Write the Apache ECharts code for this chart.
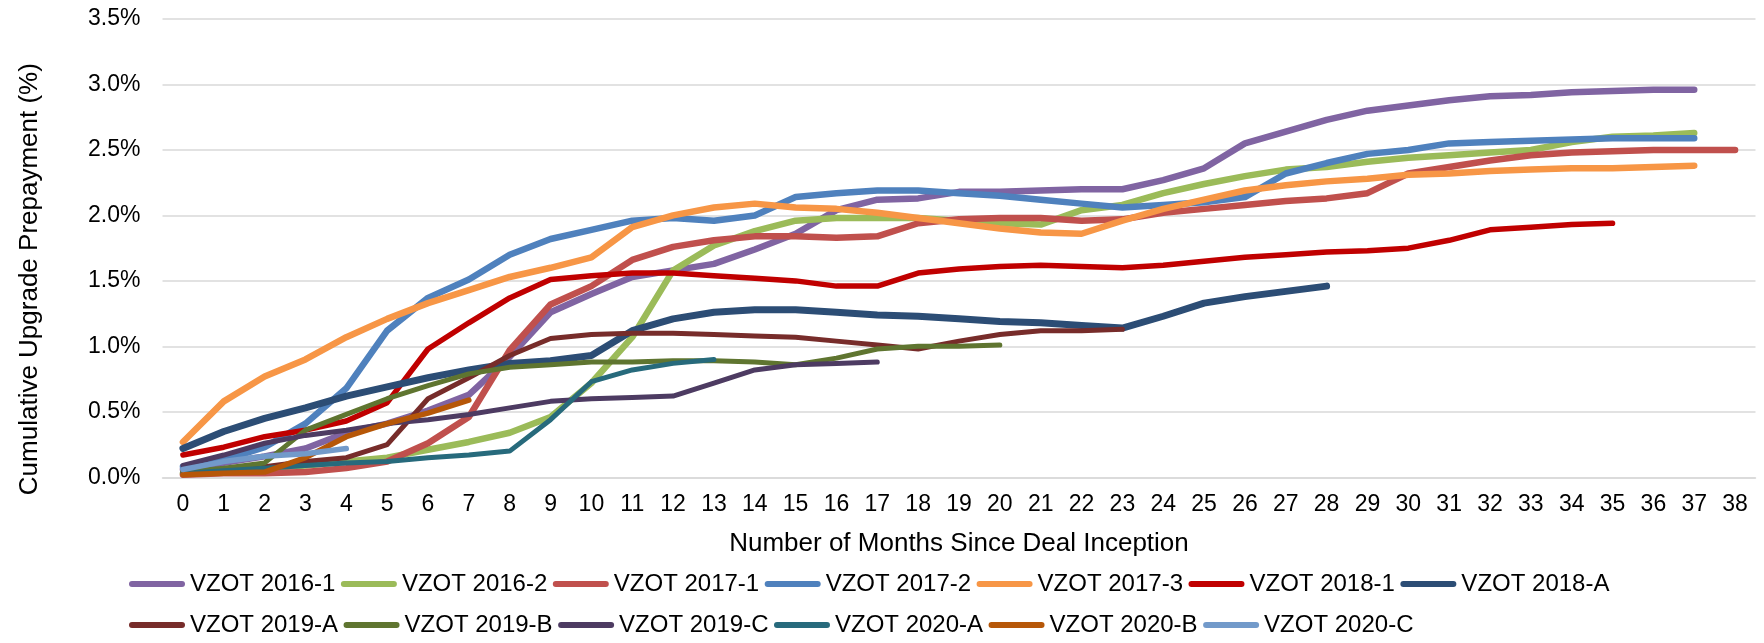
<!DOCTYPE html>
<html>
<head>
<meta charset="utf-8">
<script src="https://cdn.jsdelivr.net/npm/echarts@6/dist/echarts.min.js"></script>
<style>
html,body{margin:0;padding:0;background:#fff;}
#chart{width:1764px;height:643px;}
</style>
</head>
<body>
<div id="chart"></div>
<script>
// Category axis: months since deal inception
var months = ['0','1','2','3','4','5','6','7','8','9','10','11','12','13','14','15','16','17','18','19','20','21','22','23','24','25','26','27','28','29','30','31','32','33','34','35','36','37','38'];

// Series names
var seriesNames = ['VZOT 2016-1','VZOT 2016-2','VZOT 2017-1','VZOT 2017-2','VZOT 2017-3','VZOT 2018-1','VZOT 2018-A','VZOT 2019-A','VZOT 2019-B','VZOT 2019-C','VZOT 2020-A','VZOT 2020-B','VZOT 2020-C'];

// Cumulative upgrade prepayment (%), by month
var vzot2016_1 = [0.06,0.11,0.16,0.22,0.34,0.41,0.51,0.63,0.92,1.26,1.40,1.53,1.58,1.63,1.74,1.86,2.04,2.12,2.13,2.18,2.18,2.19,2.20,2.20,2.27,2.36,2.55,2.64,2.73,2.80,2.84,2.88,2.91,2.92,2.94,2.95,2.96,2.96];
var vzot2016_2 = [0.03,0.05,0.07,0.09,0.12,0.15,0.21,0.27,0.34,0.46,0.72,1.07,1.58,1.77,1.88,1.96,1.98,1.98,1.98,1.96,1.94,1.93,2.04,2.08,2.17,2.24,2.30,2.35,2.37,2.41,2.44,2.46,2.48,2.50,2.56,2.60,2.61,2.63];
var vzot2017_1 = [0.02,0.03,0.03,0.04,0.07,0.12,0.26,0.46,0.97,1.32,1.46,1.66,1.76,1.81,1.84,1.84,1.83,1.84,1.94,1.97,1.98,1.98,1.96,1.97,2.02,2.05,2.08,2.11,2.13,2.17,2.32,2.37,2.42,2.46,2.48,2.49,2.50,2.50,2.50];
var vzot2017_2 = [0.08,0.13,0.23,0.41,0.68,1.12,1.37,1.51,1.70,1.82,1.89,1.96,1.98,1.96,2.00,2.14,2.17,2.19,2.19,2.17,2.15,2.12,2.09,2.06,2.08,2.10,2.14,2.32,2.40,2.47,2.50,2.55,2.56,2.57,2.58,2.59,2.59,2.59];
var vzot2017_3 = [0.27,0.58,0.77,0.90,1.07,1.21,1.33,1.43,1.53,1.60,1.68,1.91,2.00,2.06,2.09,2.06,2.05,2.02,1.98,1.94,1.90,1.87,1.86,1.96,2.05,2.12,2.19,2.23,2.26,2.28,2.31,2.32,2.34,2.35,2.36,2.36,2.37,2.38];
var vzot2018_1 = [0.17,0.23,0.31,0.36,0.43,0.57,0.98,1.18,1.37,1.51,1.54,1.56,1.56,1.54,1.52,1.50,1.46,1.46,1.56,1.59,1.61,1.62,1.61,1.60,1.62,1.65,1.68,1.70,1.72,1.73,1.75,1.81,1.89,1.91,1.93,1.94];
var vzot2018_A = [0.22,0.35,0.45,0.53,0.62,0.69,0.76,0.82,0.87,0.89,0.93,1.12,1.21,1.26,1.28,1.28,1.26,1.24,1.23,1.21,1.19,1.18,1.16,1.14,1.23,1.33,1.38,1.42,1.46];
var vzot2019_A = [0.04,0.06,0.08,0.12,0.15,0.25,0.60,0.76,0.93,1.06,1.09,1.10,1.10,1.09,1.08,1.07,1.04,1.01,0.98,1.04,1.09,1.12,1.12,1.13];
var vzot2019_B = [0.04,0.07,0.11,0.36,0.48,0.60,0.70,0.79,0.84,0.86,0.88,0.88,0.89,0.89,0.88,0.86,0.91,0.98,1.00,1.00,1.01];
var vzot2019_C = [0.09,0.17,0.26,0.32,0.36,0.41,0.44,0.48,0.53,0.58,0.60,0.61,0.62,0.72,0.82,0.86,0.87,0.88];
var vzot2020_A = [0.03,0.05,0.07,0.09,0.11,0.12,0.15,0.17,0.20,0.44,0.73,0.82,0.87,0.90];
var vzot2020_B = [0.02,0.03,0.04,0.15,0.31,0.41,0.49,0.59];
var vzot2020_C = [0.06,0.12,0.16,0.18,0.22];

// Y axis ticks (%)
var yTicks = [0.0,0.5,1.0,1.5,2.0,2.5,3.0,3.5];

var seriesData = [vzot2016_1,vzot2016_2,vzot2017_1,vzot2017_2,vzot2017_3,vzot2018_1,vzot2018_A,vzot2019_A,vzot2019_B,vzot2019_C,vzot2020_A,vzot2020_B,vzot2020_C];
var colors = ['#8064A2','#9BBB59','#C0504D','#4F81BD','#F79646','#C00000','#2C4D75','#772C2A','#5F7530','#4D3B62','#276A7C','#B65708','#729ACA'];
var widths = [6.5,6.5,6.5,6.5,6.5,5.5,7,5,5,5,5,5.5,5.5];

var FONT = '"Liberation Sans", Arial, sans-serif';
var legendIcon = 'path://M3,0H53A3,3,0,0,1,53,6H3A3,3,0,0,1,3,0Z';

var series = seriesNames.map(function (n, i) {
  return {
    name: n,
    type: 'line',
    data: seriesData[i],
    symbol: 'none',
    smooth: false,
    animation: false,
    color: colors[i],
    lineStyle: { width: widths[i], color: colors[i], cap: 'round', join: 'round' }
  };
});

function legendCfg(names, top) {
  return {
    data: names,
    left: 129,
    top: top,
    orient: 'horizontal',
    icon: legendIcon,
    itemWidth: 56,
    itemHeight: 6,
    itemGap: 5.5,
    padding: 0,
    textStyle: { fontFamily: FONT, fontSize: 24, color: '#000' }
  };
}

var chart = echarts.init(document.getElementById('chart'), null, { renderer: 'canvas' });
chart.setOption({
  animation: false,
  backgroundColor: '#fff',
  grid: { left: 162.5, right: 8.5, top: 19, bottom: 165.7, containLabel: false },
  legend: [
    legendCfg(seriesNames.slice(0, 7), 572),
    legendCfg(seriesNames.slice(7), 613)
  ],
  xAxis: {
    type: 'category',
    data: months,
    boundaryGap: true,
    name: 'Number of Months Since Deal Inception',
    nameLocation: 'middle',
    nameGap: 54,
    nameTextStyle: { fontFamily: FONT, fontSize: 26, color: '#000' },
    axisLine: { show: true, lineStyle: { color: '#d9d9d9', width: 1.5 } },
    axisTick: { show: false },
    axisLabel: { interval: 0, fontFamily: FONT, fontSize: 23, color: '#000', margin: 16 }
  },
  yAxis: {
    type: 'value',
    min: yTicks[0],
    max: yTicks[yTicks.length - 1],
    interval: yTicks[1] - yTicks[0],
    name: 'Cumulative Upgrade Prepayment (%)',
    nameLocation: 'middle',
    nameGap: 120,
    nameRotate: 90,
    nameTextStyle: { fontFamily: FONT, fontSize: 26, color: '#000', padding: [0, 62, 0, 0] },
    axisLine: { show: false },
    axisTick: { show: false },
    splitLine: { show: true, lineStyle: { color: '#d9d9d9', width: 1.5 } },
    axisLabel: {
      fontFamily: FONT, fontSize: 23, color: '#000', margin: 22,
      formatter: function (v) { return v.toFixed(1) + '%'; }
    }
  },
  series: series
});
</script>
</body>
</html>
